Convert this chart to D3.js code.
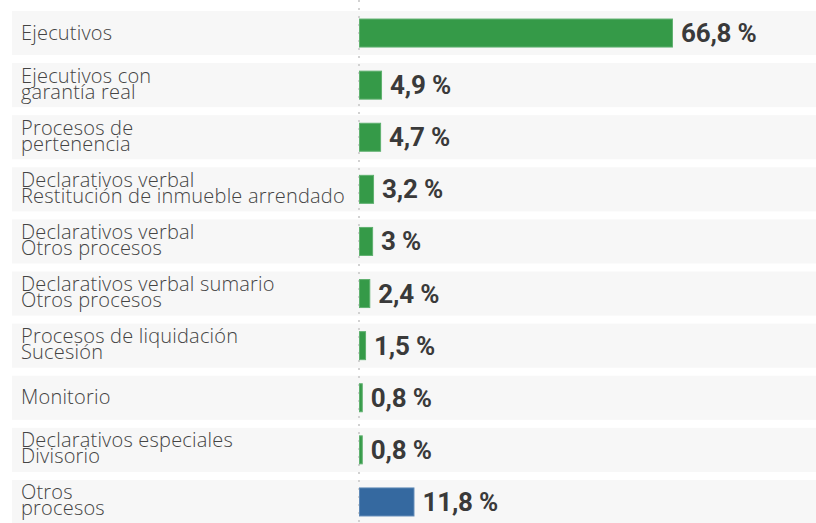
<!DOCTYPE html>
<html>
<head>
<meta charset="utf-8">
<script src="https://cdn.jsdelivr.net/npm/d3@7"></script>
<style>
  html, body { margin: 0; padding: 0; background: #fff; }
</style>
</head>
<body>
<div id="main"></div>
<script>
const width = 816;
const height = 523;

// data
const categories = [
  "Ejecutivos",
  "Ejecutivos con\ngarantía real",
  "Procesos de\npertenencia",
  "Declarativos verbal\nRestitución de inmueble arrendado",
  "Declarativos verbal\nOtros procesos",
  "Declarativos verbal sumario\nOtros procesos",
  "Procesos de liquidación\nSucesión",
  "Monitorio",
  "Declarativos especiales\nDivisorio",
  "Otros\nprocesos"
];
const values = [66.8, 4.9, 4.7, 3.2, 3, 2.4, 1.5, 0.8, 0.8, 11.8];
const groups = ["civil", "civil", "civil", "civil", "civil", "civil", "civil", "civil", "civil", "otros"];

const colors = { civil: "#359a48", otros: "#3569a0" };
const strokes = { civil: "#5fb06f", otros: "#5d88b6" };

const data = categories.map((c, i) => ({ name: c, value: values[i], group: groups[i] }));

const locale = d3.formatLocale({ decimal: ",", thousands: ".", grouping: [3], currency: ["", " €"] });
const fmt = locale.format("~g");

const svg = d3.select("#main")
  .append("svg")
  .attr("width", width)
  .attr("height", height);

const x = d3.scaleLinear()
  .domain([0, 100])
  .range([359, 829]);

const y = d3.scaleBand()
  .domain(categories)
  .range([11, 11 + 10 * 52.1 - 8])
  .paddingInner(0.154)
  .paddingOuter(0);

// row backgrounds
svg.append("g")
  .selectAll("rect")
  .data(data)
  .join("rect")
    .attr("x", 12)
    .attr("y", d => y(d.name))
    .attr("width", width - 12)
    .attr("height", y.bandwidth())
    .attr("fill", "#f7f7f7");

// dotted zero line
svg.append("line")
  .attr("x1", x(0))
  .attr("x2", x(0))
  .attr("y1", 0)
  .attr("y2", height)
  .attr("stroke", "#d2d2d2")
  .attr("stroke-width", 2)
  .attr("stroke-dasharray", "2,6");

// bars
const barH = 29;
svg.append("g")
  .selectAll("rect")
  .data(data)
  .join("rect")
    .attr("x", x(0) + 0.5)
    .attr("y", d => y(d.name) + (y.bandwidth() - barH) / 2 + 0.5)
    .attr("width", d => Math.max(1, x(d.value) - x(0) - 1))
    .attr("height", barH - 1)
    .attr("fill", d => colors[d.group])
    .attr("stroke", d => strokes[d.group])
    .attr("stroke-width", 1);

// value labels
svg.append("g")
  .selectAll("text")
  .data(data)
  .join("text")
    .attr("x", d => x(d.value) + 8)
    .attr("y", d => y(d.name) + y.bandwidth() / 2 + 9)
    .attr("font-family", "Roboto, sans-serif")
    .attr("font-weight", 700)
    .attr("font-size", "26px")
    .attr("letter-spacing", "-0.2px")
    .attr("fill", "#3a3a3a")
    .text(d => fmt(d.value) + " %");

// category labels
const labels = svg.append("g")
  .selectAll("text")
  .data(data)
  .join("text")
    .attr("x", 21)
    .attr("y", d => y(d.name) + y.bandwidth() / 2)
    .attr("font-family", "'Open Sans', sans-serif")
    .attr("font-weight", 300)
    .attr("font-size", "20px")
    .attr("letter-spacing", "0.2px")
    .attr("fill", "#444");

labels.each(function(d) {
  const lines = d.name.split("\n");
  const t = d3.select(this);
  const first = lines.length === 1 ? 6.5 : -2.5;
  lines.forEach((l, i) => {
    t.append("tspan")
      .attr("x", 21)
      .attr("dy", i === 0 ? first : 16)
      .text(l);
  });
});
</script>
</body>
</html>
